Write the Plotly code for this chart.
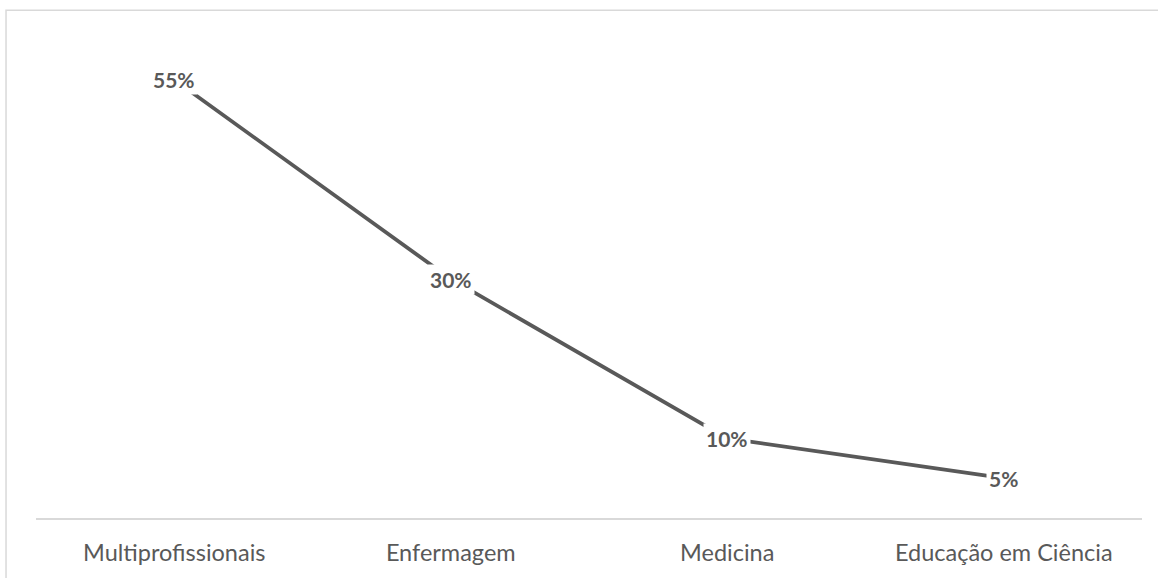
import plotly.graph_objects as go

# Distribution of items by area
categories = ["Multiprofissionais", "Enfermagem", "Medicina", "Educação em Ciência"]
shares = [0.55, 0.30, 0.10, 0.05]
share_labels = ["55%", "30%", "10%", "5%"]

GRAY = "#595959"
LIGHT = "#d9d9d9"

fig = go.Figure()
fig.add_trace(go.Scatter(
    x=categories,
    y=shares,
    mode="lines",
    line=dict(color=GRAY, width=3.8),
    hoverinfo="skip",
    showlegend=False,
))

# Data labels centred on each point, with a white box over the line
for cat, val, lab in zip(categories, shares, share_labels):
    fig.add_annotation(
        x=cat, y=val, text=f"<b>{lab}</b>",
        showarrow=False, xanchor="center", yanchor="middle",
        bgcolor="white", borderpad=2,
        font=dict(family="Lato", size=21, color=GRAY),
    )

# Outer chart-area frame
fig.add_shape(
    type="rect", xref="paper", yref="paper",
    x0=-0.0271, x1=1.2, y0=-0.3, y1=1.0625,
    line=dict(color=LIGHT, width=1.5), fillcolor="rgba(0,0,0,0)", layer="below",
)

fig.update_layout(
    width=1158, height=578,
    margin=dict(l=36, r=16, t=40, b=58),
    paper_bgcolor="white", plot_bgcolor="white",
    xaxis=dict(
        type="category",
        range=[-0.5, 3.5],
        showline=True, linecolor=LIGHT, linewidth=1.5,
        showgrid=False, zeroline=False, ticks="",
        tickfont=dict(family="Lato", size=23.5, color=GRAY),
        ticklabelstandoff=13,
        fixedrange=True,
    ),
    yaxis=dict(
        range=[0, 0.6],
        visible=False, showgrid=False, zeroline=False,
        fixedrange=True,
    ),
)

fig.write_html("out.html")
